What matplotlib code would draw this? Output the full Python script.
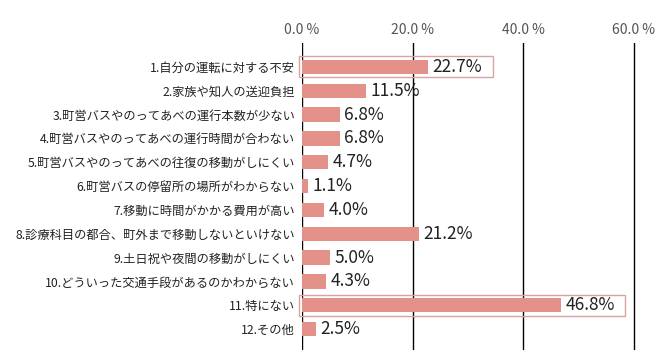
import matplotlib.pyplot as plt
from matplotlib.patches import Rectangle

plt.rcParams["font.family"] = ["Noto Sans CJK JP", "DejaVu Sans"]

categories = [
    "1.自分の運転に対する不安",
    "2.家族や知人の送迎負担",
    "3.町営バスやのってあべの運行本数が少ない",
    "4.町営バスやのってあべの運行時間が合わない",
    "5.町営バスやのってあべの往復の移動がしにくい",
    "6.町営バスの停留所の場所がわからない",
    "7.移動に時間がかかる費用が高い",
    "8.診療科目の都合、町外まで移動しないといけない",
    "9.土日祝や夜間の移動がしにくい",
    "10.どういった交通手段があるのかわからない",
    "11.特にない",
    "12.その他",
]
values = [22.7, 11.5, 6.8, 6.8, 4.7, 1.1, 4.0, 21.2, 5.0, 4.3, 46.8, 2.5]
highlighted = [0, 10]
xticks = [0, 20, 40, 60]

bar_color = "#E4918A"
box_color = "#D9A3A3"

fig = plt.figure(figsize=(6.67, 3.63), dpi=100)
# x from 0 to 61 so the 60% line is not clipped at the edge
ax = fig.add_axes([0.4528, 0.0358, 0.4977 * 61 / 60, 0.8457])

ypos = list(range(len(categories)))
ax.barh(ypos, values, height=0.6, color=bar_color, zorder=3)

for y, v in zip(ypos, values):
    ax.text(v + 0.8, y, f"{v:.1f}%", va="center", ha="left", fontsize=12.5,
            color="#222222", zorder=4)

# highlight frames
box_right = {0: 34.5, 10: 58.3}
for i in highlighted:
    ax.add_patch(Rectangle((-0.5, i - 0.44), box_right[i] + 0.5, 0.88,
                           fill=False, edgecolor=box_color, linewidth=1.0,
                           clip_on=False, zorder=5))

ax.set_xlim(0, 61)
ax.set_ylim(11.88, -1.0)
ax.set_yticks(ypos)
ax.set_yticklabels(categories, fontsize=8.8, color="#222222")
ax.set_xticks(xticks)
ax.set_xticklabels([f"{t:.1f} %" for t in xticks], fontsize=10, color="#555555")
ax.xaxis.tick_top()
ax.tick_params(axis="both", length=0)
ax.tick_params(axis="x", pad=4)
ax.tick_params(axis="y", pad=5)
for s in ax.spines.values():
    s.set_visible(False)
ax.grid(axis="x", color="black", linewidth=1.0, zorder=1)
ax.set_axisbelow(True)

fig.savefig("out.png", dpi=100)
